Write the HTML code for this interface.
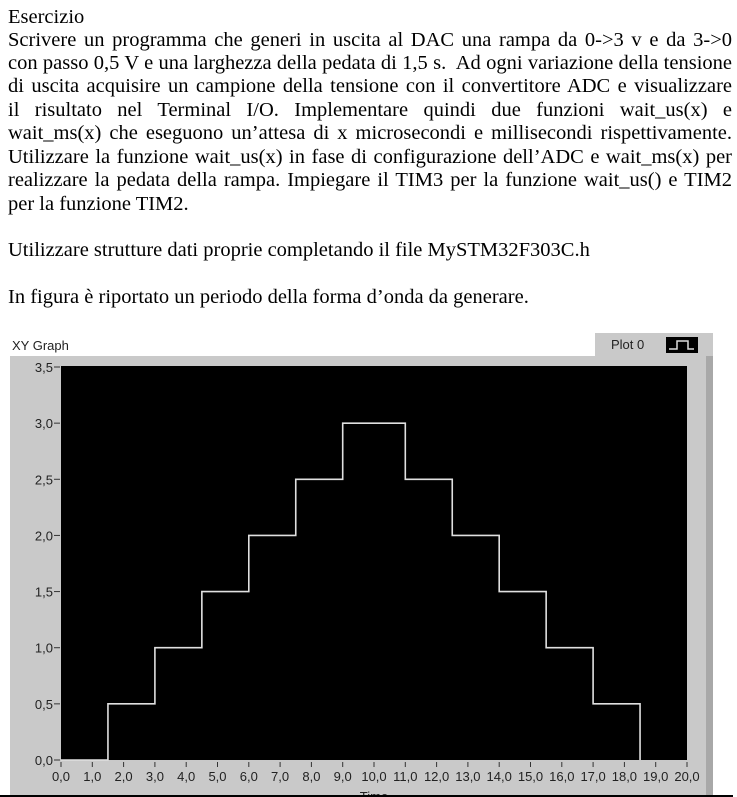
<!DOCTYPE html>
<html><head><meta charset="utf-8"><style>
body{margin:0;width:737px;height:797px;background:#fff;position:relative;overflow:hidden;font-family:"Liberation Serif",serif;}
.ln{position:absolute;left:8px;width:724px;font-size:20.5px;line-height:22px;color:#000;white-space:nowrap;}
.j{text-align:justify;text-align-last:justify;white-space:normal;word-spacing:-2px;}
</style></head><body>
<div>
<div class="ln" style="top:6px">Esercizio</div>
<div class="ln j" style="top:29px">Scrivere un programma che generi in uscita al DAC una rampa da 0-&gt;3 v e da 3-&gt;0</div>
<div class="ln j" style="top:52px">con passo 0,5 V e una larghezza della pedata di 1,5 s.&nbsp; Ad ogni variazione della tensione</div>
<div class="ln j" style="top:75px">di uscita acquisire un campione della tensione con il convertitore ADC e visualizzare</div>
<div class="ln j" style="top:99px">il risultato nel Terminal I/O. Implementare quindi due funzioni wait_us(x) e</div>
<div class="ln j" style="top:122px">wait_ms(x) che eseguono un’attesa di x microsecondi e millisecondi rispettivamente.</div>
<div class="ln j" style="top:146px">Utilizzare la funzione wait_us(x) in fase di configurazione dell’ADC e wait_ms(x) per</div>
<div class="ln j" style="top:169px">realizzare la pedata della rampa. Impiegare il TIM3 per la funzione wait_us() e TIM2</div>
<div class="ln" style="top:193px">per la funzione TIM2.</div>
<div class="ln" style="top:239px">Utilizzare strutture dati proprie completando il file MySTM32F303C.h</div>
<div class="ln" style="top:286px">In figura è riportato un periodo della forma d’onda da generare.</div>
</div>
<svg width="737" height="797" style="position:absolute;left:0;top:0">
<text x="12" y="350" font-family="Liberation Sans,sans-serif" font-size="13" fill="#222">XY Graph</text>
<rect x="10" y="356" width="703" height="441" fill="#c9c9c9"/>
<rect x="706" y="333" width="7" height="464" fill="#a8a8a8"/>
<rect x="595" y="333" width="118" height="23" fill="#c9c9c9"/>
<text x="611" y="349" font-family="Liberation Sans,sans-serif" font-size="13" fill="#222">Plot 0</text>
<rect x="666" y="337" width="32" height="16" fill="#000"/>
<polyline points="669,349 677,349 677,341 688,341 688,349 694,349" fill="none" stroke="#ddd" stroke-width="1.5"/>
<rect x="61" y="366" width="626" height="394" fill="#000"/>
<g id="axes"></g>
<path id="series" fill="none" stroke="#e0e0e0" stroke-width="1.6"/>
<text x="374" y="801" text-anchor="middle" font-family="Liberation Sans,sans-serif" font-size="13" fill="#222">Time</text>
<rect x="0" y="795" width="733" height="2" fill="#000"/>
</svg>
<script>
const stepX=[0,1.5,3,4.5,6,7.5,9,11,12.5,14,15.5,17,18.5];
const stepY=[0,0.5,1,1.5,2,2.5,3,2.5,2,1.5,1,0.5,0];
const xTicks=[0,1,2,3,4,5,6,7,8,9,10,11,12,13,14,15,16,17,18,19,20];
const yTicks=[0,0.5,1,1.5,2,2.5,3,3.5];
const X=v=>61+v*(626/20), Y=v=>760-v*(393/3.5);
const ns='http://www.w3.org/2000/svg';
const g=document.getElementById('axes');
function mk(t,a){const e=document.createElementNS(ns,t);for(const k in a)e.setAttribute(k,a[k]);g.appendChild(e);return e;}
xTicks.forEach(v=>{
 const l=mk('line',{x1:X(v),x2:X(v),y1:762,y2:767,stroke:'#333'});
 
 
 const t=mk('text',{x:X(v),y:781,'text-anchor':'middle','font-family':'Liberation Sans,sans-serif','font-size':'13',fill:'#222'});
 t.textContent=v.toFixed(1).replace('.',',');
 
 
});
yTicks.forEach(v=>{
 const l=mk('line',{x1:54,x2:60,y1:Y(v),y2:Y(v),stroke:'#333'});
 
 
 const t=mk('text',{x:53,y:Y(v)+5,'text-anchor':'end','font-family':'Liberation Sans,sans-serif','font-size':'13',fill:'#222'});
 t.textContent=v.toFixed(1).replace('.',',');
 
 
});
let d='M'+X(stepX[0])+','+Y(stepY[0]);
for(let i=1;i<stepX.length;i++){d+=' H'+X(stepX[i])+' V'+Y(stepY[i]);}
document.getElementById('series').setAttribute('d',d);
</script>
</body></html>
